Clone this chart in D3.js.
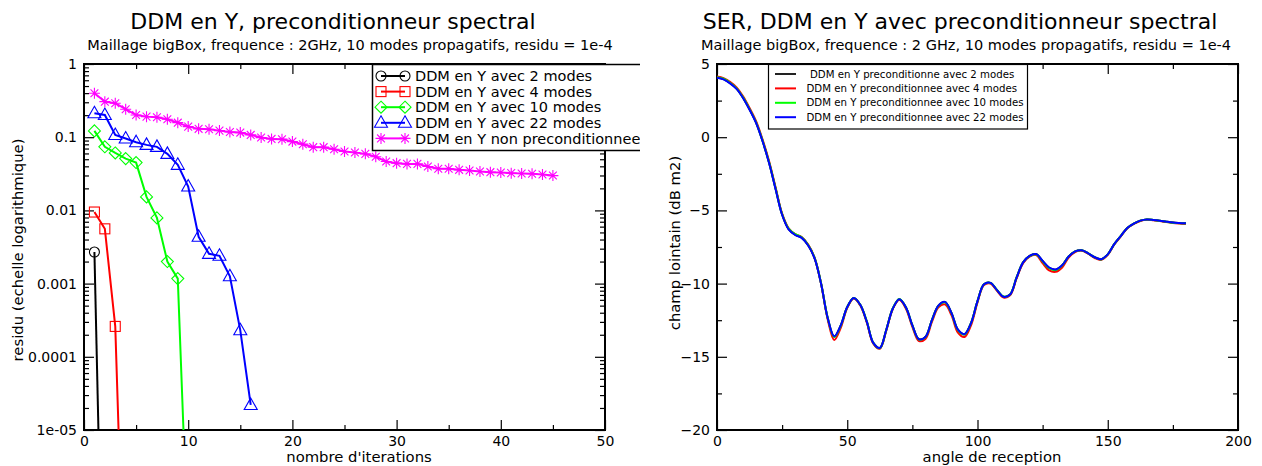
<!DOCTYPE html>
<html><head><meta charset="utf-8">
<script src="https://cdn.jsdelivr.net/npm/d3@7"></script>
<style>
body{margin:0;background:#fff;}
svg{display:block;font-family:"DejaVu Sans",sans-serif;}
</style>
</head><body>
<svg id="c" width="1262" height="466"></svg>
<script>
// ---------------- LEFT CHART DATA ----------------
const iter2 = [1, 2];
const res2 = [0.0027, 1.3e-9];
const iter4 = [1, 2, 3, 4];
const res4 = [0.0095, 0.0056, 0.00026, 9e-9];
const iter10 = [1, 2, 3, 4, 5, 6, 7, 8, 9, 10];
const res10 = [0.122, 0.074, 0.061, 0.051, 0.045, 0.0153, 0.0079, 0.0020, 0.00117, 1.9e-7];
const iter22 = [1, 2, 3, 4, 5, 6, 7, 8, 9, 10, 11, 12, 13, 14, 15, 16];
const res22 = [0.212, 0.201, 0.107, 0.096, 0.0855, 0.0785, 0.0738, 0.0592, 0.0419, 0.0212, 0.00436, 0.00255, 0.0024, 0.00126, 0.00023, 2.2e-5];
const iterNP = [1,2,3,4,5,6,7,8,9,10,11,12,13,14,15,16,17,18,19,20,21,22,23,24,25,26,27,28,29,30,31,32,33,34,35,36,37,38,39,40,41,42,43,44,45];
const resNP = [0.398, 0.306, 0.291, 0.241, 0.201, 0.191, 0.1875, 0.176, 0.158, 0.1395, 0.130, 0.1286, 0.123, 0.118, 0.1156, 0.1075, 0.0988, 0.0948, 0.094, 0.0871, 0.0803, 0.0731, 0.0731, 0.0686, 0.0637, 0.0617, 0.0592, 0.054, 0.0465, 0.0442, 0.0432, 0.0432, 0.0397, 0.037, 0.037, 0.0358, 0.035, 0.034, 0.0333, 0.0329, 0.0323, 0.0319, 0.0316, 0.0309, 0.0299];
const leftLegend = ["DDM en Y avec 2 modes", "DDM en Y avec 4 modes", "DDM en Y avec 10 modes", "DDM en Y avec 22 modes", "DDM en Y non preconditionnee"];
const leftXTicks = [0, 10, 20, 30, 40, 50];
const leftYTicks = [1, 0.1, 0.01, 0.001, 0.0001, 1e-5];
const leftYTickLabels = ["1", "0.1", "0.01", "0.001", "0.0001", "1e-05"];

// ---------------- RIGHT CHART DATA ----------------
const angles = [0,2.5,5,7.5,10,12.5,15,17.5,20,22.5,25,27.5,30,32.5,35,37.5,40,42.5,45,47.5,50,52.5,55,57.5,60,62.5,65,67.5,70,72.5,75,77.5,80,82.5,85,87.5,90,92.5,95,97.5,100,102.5,105,107.5,110,112.5,115,117.5,120,122.5,125,127.5,130,132.5,135,137.5,140,142.5,145,147.5,150,152.5,155,157.5,160,162.5,165,167.5,170,172.5,175,177.5,180];
const ser22 = [4.06,3.95,3.68,3.30,2.68,1.88,0.98,-0.28,-1.76,-3.55,-5.30,-6.30,-6.68,-6.88,-7.40,-8.30,-10.05,-12.35,-13.60,-12.85,-11.60,-10.98,-11.45,-12.60,-14.05,-14.40,-13.15,-11.70,-11.07,-11.62,-12.85,-13.80,-13.65,-12.50,-11.50,-11.25,-12.00,-13.15,-13.45,-12.70,-11.20,-10.05,-9.95,-10.45,-10.90,-10.75,-9.60,-8.55,-8.10,-7.98,-8.45,-8.90,-9.03,-8.75,-8.15,-7.80,-7.72,-7.93,-8.20,-8.33,-8.00,-7.30,-6.75,-6.20,-5.90,-5.70,-5.62,-5.65,-5.70,-5.77,-5.83,-5.86,-5.88];
const ser10 = [4.10,3.99,3.72,3.34,2.72,1.92,1.02,-0.24,-1.72,-3.50,-5.26,-6.24,-6.62,-6.84,-7.36,-8.26,-10.02,-12.35,-13.65,-12.88,-11.60,-10.98,-11.45,-12.58,-14.05,-14.42,-13.15,-11.68,-11.06,-11.62,-12.86,-13.82,-13.66,-12.50,-11.52,-11.28,-12.02,-13.18,-13.48,-12.70,-11.20,-10.05,-9.95,-10.44,-10.88,-10.74,-9.58,-8.54,-8.12,-8.00,-8.48,-8.95,-9.08,-8.76,-8.14,-7.80,-7.72,-7.93,-8.21,-8.35,-8.00,-7.30,-6.74,-6.20,-5.90,-5.70,-5.62,-5.65,-5.71,-5.78,-5.84,-5.87,-5.90];
const ser4 = [4.15,4.04,3.78,3.40,2.80,2.00,1.10,-0.16,-1.64,-3.44,-5.22,-6.22,-6.62,-6.82,-7.34,-8.26,-10.05,-12.45,-13.85,-13.02,-11.65,-11.02,-11.50,-12.65,-14.10,-14.45,-13.20,-11.72,-11.10,-11.70,-12.95,-13.92,-13.78,-12.62,-11.62,-11.42,-12.15,-13.35,-13.65,-12.85,-11.28,-10.10,-10.00,-10.50,-10.95,-10.80,-9.65,-8.60,-8.15,-8.05,-8.60,-9.10,-9.20,-8.90,-8.22,-7.84,-7.75,-7.96,-8.25,-8.38,-8.04,-7.33,-6.78,-6.22,-5.92,-5.72,-5.64,-5.68,-5.73,-5.80,-5.86,-5.90,-5.93];
const ser2 = [4.08,3.97,3.70,3.32,2.70,1.90,1.00,-0.26,-1.74,-3.52,-5.28,-6.28,-6.66,-6.86,-7.38,-8.28,-10.04,-12.35,-13.62,-12.86,-11.60,-10.98,-11.45,-12.60,-14.05,-14.40,-13.15,-11.70,-11.07,-11.62,-12.85,-13.80,-13.65,-12.50,-11.50,-11.26,-12.00,-13.16,-13.46,-12.70,-11.20,-10.05,-9.95,-10.45,-10.90,-10.75,-9.60,-8.55,-8.10,-7.98,-8.46,-8.92,-9.05,-8.76,-8.15,-7.80,-7.72,-7.93,-8.20,-8.33,-8.00,-7.30,-6.75,-6.20,-5.90,-5.70,-5.62,-5.65,-5.70,-5.77,-5.83,-5.86,-5.88];
const rightLegend = ["DDM en Y preconditionne avec 2 modes", "DDM en Y preconditionnee avec 4 modes", "DDM en Y preconditionnee avec 10 modes", "DDM en Y preconditionnee avec 22 modes"];
const rightXTicks = [0, 50, 100, 150, 200];
const rightYTicks = [5, 0, -5, -10, -15, -20];

// ---------------- DRAWING ----------------
const svg = d3.select("#c");
const FONT = "DejaVu Sans";
const defs = svg.append("defs");
defs.append("clipPath").attr("id","leftPanel").append("rect").attr("x",0).attr("y",0).attr("width",640).attr("height",466);

function frameAxes(g, x, y, majorX, minorX, majorY, minorY, fmtX, fmtY) {
  const [x0, x1] = x.range(), [y0, y1] = y.range();
  const style = sel => { sel.select(".domain").remove(); sel.selectAll("line").attr("stroke","#000").attr("stroke-width",1.2); sel.selectAll("text").attr("font-size",14).attr("font-family",FONT).attr("fill","#000"); };
  g.append("g").attr("transform",`translate(0,${y0})`).call(d3.axisBottom(x).tickValues(majorX).tickSize(-10).tickPadding(6).tickFormat(fmtX)).call(style);
  g.append("g").attr("transform",`translate(0,${y0})`).call(d3.axisBottom(x).tickValues(minorX).tickSize(-5).tickFormat("")).call(style);
  g.append("g").attr("transform",`translate(0,${y1})`).call(d3.axisTop(x).tickValues(majorX).tickSize(-10).tickFormat("")).call(style);
  g.append("g").attr("transform",`translate(0,${y1})`).call(d3.axisTop(x).tickValues(minorX).tickSize(-5).tickFormat("")).call(style);
  g.append("g").attr("transform",`translate(${x0},0)`).call(d3.axisLeft(y).tickValues(majorY).tickSize(-10).tickPadding(7).tickFormat(fmtY)).call(style);
  g.append("g").attr("transform",`translate(${x0},0)`).call(d3.axisLeft(y).tickValues(minorY).tickSize(-5).tickFormat("")).call(style);
  g.append("g").attr("transform",`translate(${x1},0)`).call(d3.axisRight(y).tickValues(majorY).tickSize(-10).tickFormat("")).call(style);
  g.append("g").attr("transform",`translate(${x1},0)`).call(d3.axisRight(y).tickValues(minorY).tickSize(-5).tickFormat("")).call(style);
  g.append("rect").attr("x",x0).attr("y",y1).attr("width",x1-x0).attr("height",y0-y1)
    .attr("fill","none").attr("stroke","#000").attr("stroke-width",2);
}

// ===== LEFT =====
const L = svg.append("g").attr("clip-path","url(#leftPanel)");
const xL = d3.scaleLinear().domain([0,50]).range([84,605]);
const yL = d3.scaleLog().domain([1e-5,1]).range([430,64]);
defs.append("clipPath").attr("id","leftPlot").append("rect").attr("x",84).attr("y",64).attr("width",521).attr("height",366);

const minorXL = d3.range(5, 50, 10);
const minorYL = yL.ticks().filter(v => !leftYTicks.some(t => Math.abs(t - v) / t < 1e-9));
frameAxes(L, xL, yL, leftXTicks, minorXL, leftYTicks, minorYL, d3.format("d"), (d,i) => leftYTickLabels[leftYTicks.indexOf(d)]);

const markers = {
  circle: g => g.append("circle").attr("r",5),
  square: g => g.append("rect").attr("x",-5).attr("y",-5).attr("width",10).attr("height",10),
  diamond: g => g.append("path").attr("d","M0,-6L6,0L0,6L-6,0Z"),
  triangle: g => g.append("path").attr("d","M0,-7L6.5,4.5L-6.5,4.5Z"),
  star: g => g.append("path").attr("d","M-5.5,0H5.5M0,-5.5V5.5M-3.9,-3.9L3.9,3.9M-3.9,3.9L3.9,-3.9")
};
const leftSeries = [
  {xs: iter2, ys: res2, color: "#000000", marker: "circle"},
  {xs: iter4, ys: res4, color: "#ff0000", marker: "square"},
  {xs: iter10, ys: res10, color: "#00ff00", marker: "diamond"},
  {xs: iter22, ys: res22, color: "#0000ff", marker: "triangle"},
  {xs: iterNP, ys: resNP, color: "#ff00ff", marker: "star"}
];
const plotL = L.append("g").attr("clip-path","url(#leftPlot)");
const lineL = d3.line().x(d => xL(d[0])).y(d => yL(d[1]));
leftSeries.forEach(s => {
  const pts = s.xs.map((x,i) => [x, s.ys[i]]);
  plotL.append("path").attr("d", lineL(pts)).attr("fill","none").attr("stroke",s.color).attr("stroke-width",2);
  pts.forEach(p => {
    const g = plotL.append("g").attr("transform",`translate(${xL(p[0])},${yL(p[1])})`);
    markers[s.marker](g).attr("fill","none").attr("stroke",s.color).attr("stroke-width",1.1);
  });
});

// left legend
const lgL = L.append("g");
lgL.append("rect").attr("x",372.5).attr("y",64.5).attr("width",320).attr("height",86).attr("fill","#fff").attr("stroke","#000").attr("stroke-width",1.5);
leftSeries.forEach((s,i) => {
  const yy = 76 + i*15.6;
  lgL.append("line").attr("x1",381).attr("x2",405).attr("y1",yy).attr("y2",yy).attr("stroke",s.color).attr("stroke-width",2);
  [381,405].forEach(xx => {
    const g = lgL.append("g").attr("transform",`translate(${xx},${yy})`);
    markers[s.marker](g).attr("fill","none").attr("stroke",s.color).attr("stroke-width",1.1);
  });
  lgL.append("text").attr("x",415).attr("y",yy).attr("dy","0.36em").attr("font-size",14.5).attr("font-family",FONT).text(leftLegend[i]);
});

// left titles
L.append("text").attr("x",333).attr("y",29).attr("text-anchor","middle").attr("font-size",22).attr("font-family",FONT).text("DDM en Y, preconditionneur spectral");
L.append("text").attr("x",350).attr("y",50).attr("text-anchor","middle").attr("font-size",14.5).attr("font-family",FONT).text("Maillage bigBox, frequence : 2GHz, 10 modes propagatifs, residu = 1e-4");
L.append("text").attr("x",359).attr("y",462).attr("text-anchor","middle").attr("font-size",14.8).attr("font-family",FONT).text("nombre d'iterations");
L.append("text").attr("transform","translate(23,250) rotate(-90)").attr("text-anchor","middle").attr("font-size",14.8).attr("font-family",FONT).text("residu (echelle logarithmique)");

// ===== RIGHT =====
const R = svg.append("g");
const xR = d3.scaleLinear().domain([0,200]).range([717,1238]);
const yR = d3.scaleLinear().domain([-20,5]).range([430,64]);
frameAxes(R, xR, yR, rightXTicks, [25,75,125,175], rightYTicks, [2.5,-2.5,-7.5,-12.5,-17.5], d3.format("d"), d3.format("d"));

const rightSeries = [
  {ys: ser2, color: "#000000"},
  {ys: ser4, color: "#ff0000"},
  {ys: ser10, color: "#00ff00"},
  {ys: ser22, color: "#0000ff"}
];
const lineR = d3.line().x(d => xR(d[0])).y(d => yR(d[1])).curve(d3.curveCatmullRom);
rightSeries.forEach(s => {
  R.append("path").attr("d", lineR(angles.map((a,i) => [a, s.ys[i]]))).attr("fill","none").attr("stroke",s.color).attr("stroke-width",2);
});

const lgR = R.append("g");
lgR.append("rect").attr("x",768.5).attr("y",64.5).attr("width",259).attr("height",64.5).attr("fill","#fff").attr("stroke","#000").attr("stroke-width",1.2);
rightSeries.forEach((s,i) => {
  const yy = 74 + i*14.4;
  lgR.append("line").attr("x1",775).attr("x2",796).attr("y1",yy).attr("y2",yy).attr("stroke",i===0?"#222":s.color).attr("stroke-width",2);
  lgR.append("text").attr("x", i===0 ? 810 : 806.5).attr("y",yy).attr("dy","0.36em").attr("font-size",10.2).attr("font-family",FONT).text(rightLegend[i]);
});

R.append("text").attr("x",960).attr("y",29).attr("text-anchor","middle").attr("font-size",22).attr("font-family",FONT).text("SER, DDM en Y avec preconditionneur spectral");
R.append("text").attr("x",966).attr("y",50).attr("text-anchor","middle").attr("font-size",14.5).attr("font-family",FONT).text("Maillage bigBox, frequence : 2 GHz, 10 modes propagatifs, residu = 1e-4");
R.append("text").attr("x",992).attr("y",462).attr("text-anchor","middle").attr("font-size",14.8).attr("font-family",FONT).text("angle de reception");
R.append("text").attr("transform","translate(680,243) rotate(-90)").attr("text-anchor","middle").attr("font-size",14.8).attr("font-family",FONT).text("champ lointain (dB m2)");
</script>
</body></html>
